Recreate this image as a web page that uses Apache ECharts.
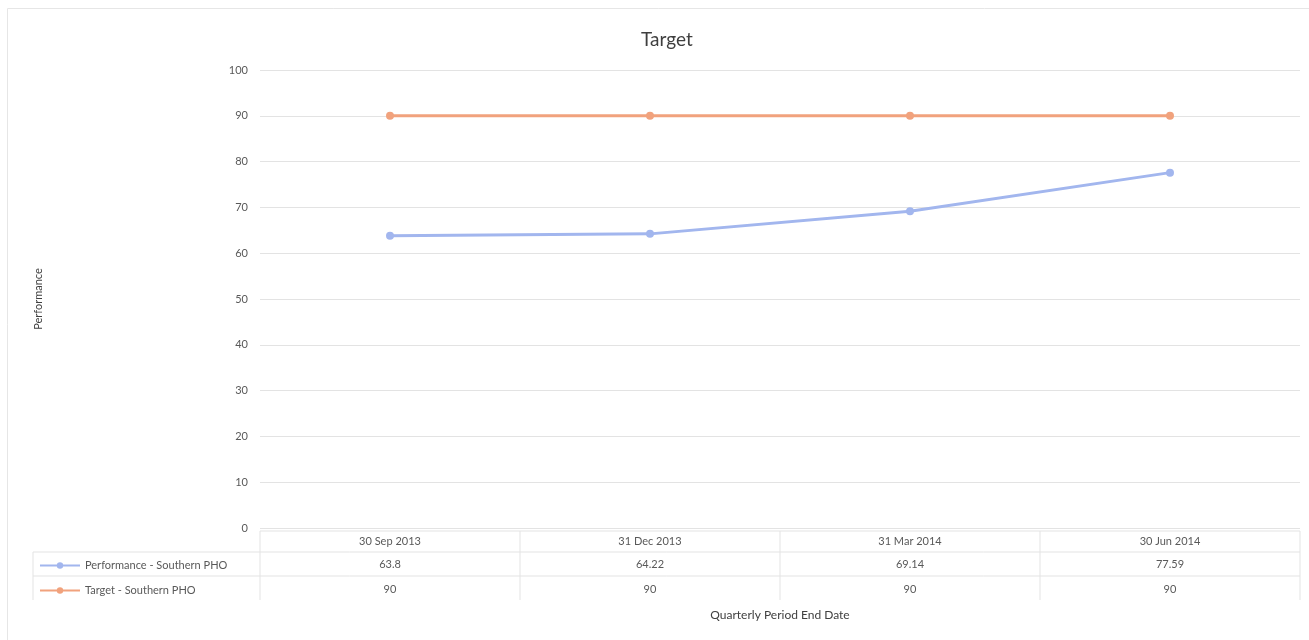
<!DOCTYPE html>
<html>
<head>
<meta charset="utf-8">
<script src="https://cdn.jsdelivr.net/npm/echarts@6/dist/echarts.min.js"></script>
<style>
  html, body { margin: 0; padding: 0; background: #fff; }
  #chart { width: 1309px; height: 640px; }
</style>
</head>
<body>
<div id="chart"></div>
<script>
// Quarterly period end dates
const quarters = ['30 Sep 2013', '31 Dec 2013', '31 Mar 2014', '30 Jun 2014'];
// Performance - Southern PHO
const performance = [63.8, 64.22, 69.14, 77.59];
// Target - Southern PHO
const target = [90, 90, 90, 90];
const seriesNames = ['Performance - Southern PHO', 'Target - Southern PHO'];

const FONT = 'Lato, "Open Sans", sans-serif';
const TEXT = '#595959';
const BLUE = '#a2b6ee';
const ORANGE = '#f1a27d';
const LINE = '#e3e3e3';

const chart = echarts.init(document.getElementById('chart'));

const gridLeft = 260, gridRight = 9, gridTop = 70, gridBottom = 112;
const plotRight = 1309 - gridRight;
const plotBottom = 640 - gridBottom;

function tableAxis(values, offset, extra) {
  return Object.assign({
    type: 'category',
    data: values,
    position: 'bottom',
    offset: offset,
    boundaryGap: true,
    axisLine: { show: false },
    axisTick: { show: false },
    axisLabel: { color: TEXT, fontSize: 11, fontFamily: FONT, margin: 8 },
    splitLine: { show: false }
  }, extra || {});
}

// table lines under the plot
const tableLines = [];
const colW = (plotRight - gridLeft) / quarters.length;
// horizontal rules
tableLines.push({ x1: gridLeft, y1: plotBottom + 3, x2: plotRight, y2: plotBottom + 3 });
tableLines.push({ x1: 33, y1: plotBottom + 24, x2: plotRight, y2: plotBottom + 24 });
tableLines.push({ x1: 33, y1: plotBottom + 48, x2: plotRight, y2: plotBottom + 48 });
// vertical rules
tableLines.push({ x1: 33, y1: plotBottom + 24, x2: 33, y2: plotBottom + 72 });
for (let i = 0; i <= quarters.length; i++) {
  const x = gridLeft + i * colW;
  tableLines.push({ x1: x, y1: plotBottom + 3, x2: x, y2: plotBottom + 72 });
}

chart.setOption({
  backgroundColor: '#fff',
  animation: false,
  title: {
    text: 'Target',
    left: 636, top: 25,
    textStyle: { fontSize: 19, fontWeight: 'normal', color: '#3f3f3f', fontFamily: FONT }
  },
  grid: { left: gridLeft, right: gridRight, top: gridTop, bottom: gridBottom },
  legend: {
    data: seriesNames,
    orient: 'vertical',
    left: 34, top: plotBottom + 27,
    itemWidth: 40, itemHeight: 8, itemGap: 14,
    textStyle: { color: TEXT, fontSize: 11, fontFamily: FONT }
  },
  xAxis: [
    tableAxis(quarters, 0, {
      name: 'Quarterly Period End Date',
      nameLocation: 'middle',
      nameGap: 81,
      nameTextStyle: { color: '#404040', fontSize: 12, fontFamily: FONT }
    }),
    tableAxis(performance.map(String), 23),
    tableAxis(target.map(String), 48)
  ],
  yAxis: {
    type: 'value',
    min: 0, max: 100, interval: 10,
    name: 'Performance',
    nameLocation: 'middle',
    nameGap: 216,
    nameRotate: 90,
    nameTextStyle: { color: '#404040', fontSize: 11, fontFamily: FONT },
    axisLine: { show: false },
    axisTick: { show: false },
    axisLabel: { color: TEXT, fontSize: 11, fontFamily: FONT, margin: 12 },
    splitLine: { lineStyle: { color: LINE, width: 1 } }
  },
  series: [
    {
      name: seriesNames[0], type: 'line', data: performance, xAxisIndex: 0,
      symbol: 'circle', symbolSize: 8,
      itemStyle: { color: BLUE },
      lineStyle: { color: BLUE, width: 3 }
    },
    {
      name: seriesNames[1], type: 'line', data: target, xAxisIndex: 0,
      symbol: 'circle', symbolSize: 8,
      itemStyle: { color: ORANGE },
      lineStyle: { color: ORANGE, width: 3 }
    }
  ],
  graphic: [
    {
      type: 'rect', silent: true, z: -1,
      shape: { x: 7.5, y: 8.5, width: 1400, height: 700 },
      style: { fill: null, stroke: '#e6e6e6', lineWidth: 1 }
    }
  ].concat(tableLines.map(s => ({
    type: 'line', silent: true,
    shape: s,
    style: { stroke: LINE, lineWidth: 1 }
  })))
});
</script>
</body>
</html>
